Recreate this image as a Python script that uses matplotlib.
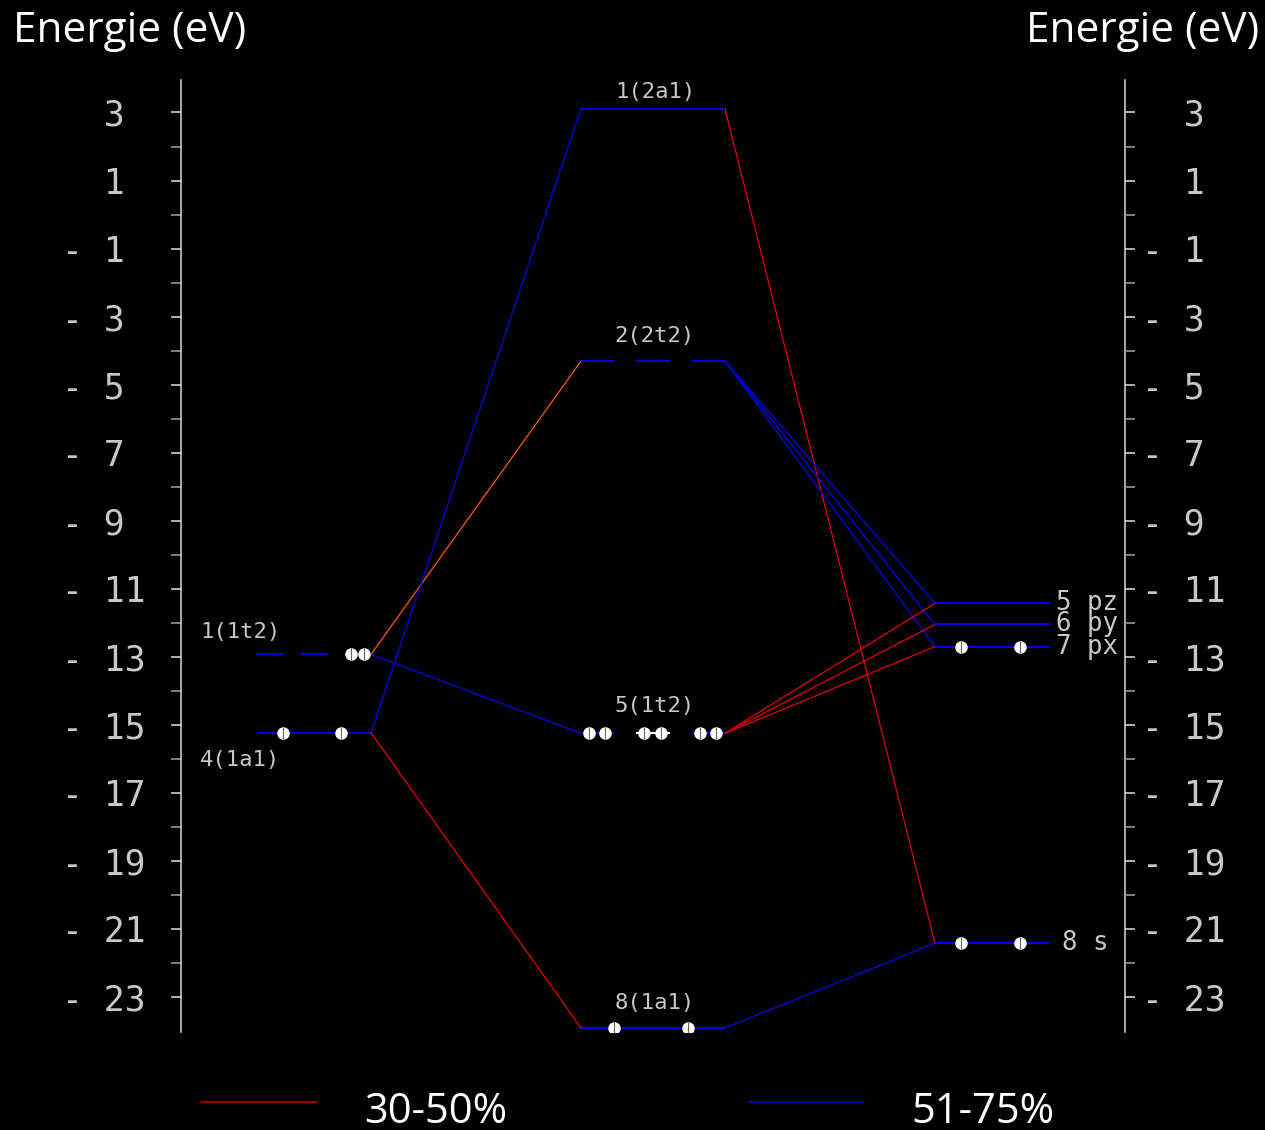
import matplotlib
matplotlib.use('Agg')
import numpy as np
import matplotlib.pyplot as plt
from matplotlib.lines import Line2D
from matplotlib.ticker import FixedLocator, FuncFormatter

# energy levels (eV)
left_names = ['1(1t2)', '4(1a1)']
left_energy = [-12.93, -15.23]
left_degen = [3, 1]
left_elec = [[0, 0, 2], [2]]

mid_names = ['1(2a1)', '2(2t2)', '5(1t2)', '8(1a1)']
mid_energy = [3.10, -4.31, -15.25, -23.91]
mid_degen = [1, 3, 3, 1]
mid_elec = [[0], [0, 0, 0], [2, 2, 2], [2]]

right_names = ['5 pz', '6 py', '7 px', '8 s']
right_energy = [-11.43, -12.05, -12.70, -21.42]
right_degen = [1, 1, 1, 1]
right_elec = [[0], [0], [2], [2]]

# connections: (from level, to level, contribution class)
links = [('1(1t2)', '2(2t2)', 'orange'),
         ('1(1t2)', '5(1t2)', '51-75'),
         ('4(1a1)', '1(2a1)', '51-75'),
         ('4(1a1)', '8(1a1)', '30-50'),
         ('1(2a1)', '8 s', '30-50'),
         ('2(2t2)', '5 pz', '51-75'),
         ('2(2t2)', '6 py', '51-75'),
         ('2(2t2)', '7 px', '51-75'),
         ('5(1t2)', '5 pz', '30-50'),
         ('5(1t2)', '6 py', '30-50'),
         ('5(1t2)', '7 px', '30-50'),
         ('8(1a1)', '8 s', '51-75')]

legend_labels = ['30-50%', '51-75%']

ytick_major = list(range(-23, 4, 2))
ytick_minor = list(range(-22, 3, 2))

# layout (pixels)
W, H = 1265, 1130
col_x = {'left': (257, 371), 'mid': (581, 725), 'right': (935, 1050)}
colors = {'30-50': '#e00000', '51-75': '#0000e6', 'orange': '#ff5a00'}
LEVEL_BLUE = '#0000e6'
TXT = '#c8c8c8'
MONO = 'DejaVu Sans Mono'

fig = plt.figure(figsize=(W / 100, H / 100), dpi=100, facecolor='black')
ax = fig.add_axes([181 / W, (H - 1032) / H, (1125 - 181) / W, (1032 - 80) / H])
ax.set_facecolor('black')
ax.set_xlim(181, 1125)
ax.set_ylim(-24.03, 3.955)
ax.set_xticks([])
for s in ['top', 'bottom']:
    ax.spines[s].set_visible(False)
for s in ['left', 'right']:
    ax.spines[s].set_color('#d8d8d8')
    ax.spines[s].set_linewidth(1.1)

fmt = FuncFormatter(lambda v, p: ('- ' if v < 0 else '  ') + str(abs(int(round(v)))))

# left energy axis
ax.yaxis.set_major_locator(FixedLocator(ytick_major))
ax.yaxis.set_minor_locator(FixedLocator(ytick_minor))
ax.yaxis.set_major_formatter(fmt)
ax.tick_params(axis='y', which='both', direction='out', length=7.2, width=1.1,
               left=True, right=False, labelleft=True, labelright=False)
ax.tick_params(axis='y', which='major', color='#e0e0e0', pad=78.5,
               labelsize=25, labelcolor=TXT)
ax.tick_params(axis='y', which='minor', color='#a0a0a0')
plt.setp(ax.get_yticklabels(), ha='left', family=MONO)

# right energy axis
ax2 = ax.twinx()
ax2.set_ylim(ax.get_ylim())
for s in ['top', 'bottom', 'left', 'right']:
    ax2.spines[s].set_visible(False)
ax2.yaxis.set_major_locator(FixedLocator(ytick_major))
ax2.yaxis.set_minor_locator(FixedLocator(ytick_minor))
ax2.yaxis.set_major_formatter(fmt)
ax2.tick_params(axis='y', which='both', direction='out', length=7.2, width=1.1)
ax2.tick_params(axis='y', which='major', color='#e0e0e0', pad=5,
                labelsize=25, labelcolor=TXT)
ax2.tick_params(axis='y', which='minor', color='#a0a0a0')
plt.setp(ax2.get_yticklabels(), family=MONO)

# collect levels
levels = {}
for col, names, en, dg, el in [('left', left_names, left_energy, left_degen, left_elec),
                               ('mid', mid_names, mid_energy, mid_degen, mid_elec),
                               ('right', right_names, right_energy, right_degen, right_elec)]:
    for n, e, d, ee in zip(names, en, dg, el):
        levels[n] = (col, e, d, ee)

# connection lines first (under levels)
for a, b, c in links:
    ca, ea = levels[a][0], levels[a][1]
    cb, eb = levels[b][0], levels[b][1]
    ax.plot([col_x[ca][1], col_x[cb][0]], [ea, eb], color=colors[c], lw=0.9, zorder=2)

# levels with electrons
for n, (col, e, d, ee) in levels.items():
    x0, x1 = col_x[col]
    if d == 1:
        segs = [(x0, x1)]
    else:
        L = x1 - x0
        seg = L / (d + (d - 1) * 0.68)
        gap = seg * 0.68
        segs = [(x0 + i * (seg + gap), x0 + i * (seg + gap) + seg) for i in range(d)]
    for i, (s0, s1) in enumerate(segs):
        c = LEVEL_BLUE
        if n == '5(1t2)' and i == 1:
            c = 'white'
        ax.plot([s0, s1], [e, e], color=c, lw=1.5, zorder=3, solid_capstyle='butt')
        ne = ee[i]
        if ne > 0:
            xs = [s0 + 0.23 * (s1 - s0), s0 + 0.74 * (s1 - s0)][:ne]
            ax.plot(xs, [e] * len(xs), 'o', color='white', ms=8, mec='white', zorder=4)
            ax.plot(xs, [e] * len(xs), '|', color='#606060', ms=8, mew=0.8, zorder=5)

# level labels
lab_kw = dict(family=MONO, color=TXT, textcoords='offset pixels', zorder=6)
ax.annotate('1(1t2)', xy=(200, levels['1(1t2)'][1]), xytext=(0, 22), ha='left', va='center', fontsize=16, **lab_kw)
ax.annotate('4(1a1)', xy=(200, levels['4(1a1)'][1]), xytext=(0, -27), ha='left', va='center', fontsize=16, **lab_kw)
mid_off = [17, 25, 27, 25]
for n, off in zip(mid_names, mid_off):
    ax.annotate(n, xy=(655, levels[n][1]), xytext=(0, off), ha='center', va='center', fontsize=16, **lab_kw)
for n in right_names:
    x = 1062 if n == '8 s' else 1056
    ax.annotate(n, xy=(x, levels[n][1]), xytext=(0, 0), ha='left', va='center', fontsize=18.5, **lab_kw)

# titles
fig.text(13 / W, 1 - 42 / H, 'Energie (eV)', family='Open Sans', fontsize=30.5, color='white', ha='left', va='baseline')
fig.text(1259 / W, 1 - 42 / H, 'Energie (eV)', family='Open Sans', fontsize=30.5, color='white', ha='right', va='baseline')

# legend
handles = [Line2D([], [], color='#c00000', lw=1.2), Line2D([], [], color='#0000c0', lw=1.2)]
leg = fig.legend(handles, legend_labels, loc='lower left', bbox_to_anchor=(202 / W, -8 / H),
                 ncol=2, frameon=False, borderpad=0, borderaxespad=0,
                 handlelength=2.75, handleheight=1.75, handletextpad=1.15, columnspacing=5.8,
                 prop={'family': 'Open Sans', 'size': 30})
for t in leg.get_texts():
    t.set_color('white')

plt.savefig('out.png', dpi=100, facecolor='black')
